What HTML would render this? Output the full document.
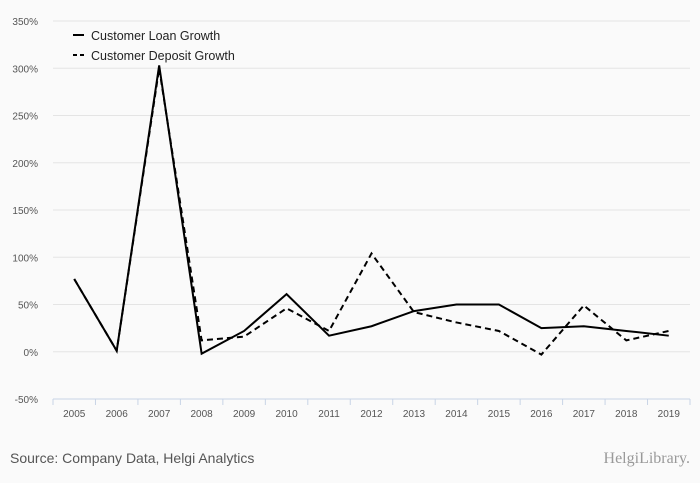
<!DOCTYPE html>
<html><head><meta charset="utf-8"><style>
body{margin:0;background:#fafafa;font-family:"Liberation Sans",sans-serif;}
svg{display:block}
</style></head><body>
<svg id="chart" width="700" height="483" xmlns="http://www.w3.org/2000/svg">
<rect width="700" height="483" fill="#fafafa"/>
<g id="grid"></g><g id="axes"></g><g id="series"></g>
<g>
<line x1="73" y1="35" x2="84" y2="35" stroke="#000" stroke-width="2"/>
<text x="91" y="40" font-size="12.5" fill="#222">Customer Loan Growth</text>
<line x1="73" y1="55" x2="84" y2="55" stroke="#000" stroke-width="2" stroke-dasharray="4,3"/>
<text x="91" y="60" font-size="12.5" fill="#222">Customer Deposit Growth</text>
</g>
<text x="10" y="463" font-size="14" fill="#555">Source: Company Data, Helgi Analytics</text>
<text x="690" y="463" font-size="16" fill="#999" text-anchor="end" font-family="Liberation Serif,serif">HelgiLibrary.</text>
</svg>
<script>
const categories=["2005","2006","2007","2008","2009","2010","2011","2012","2013","2014","2015","2016","2017","2018","2019"];
const loanGrowth=[77,1,303,-2,22,61,17,27,43,50,50,25,27,22,17];
const depositGrowth=[77,1,300,12,16,46,22,104,42,31,22,-3,49,12,22];
const yTicks=[-50,0,50,100,150,200,250,300,350];
const NS="http://www.w3.org/2000/svg";
const left=53,right=690,top0=21,bottom=399,yMin=-50,yMax=350;
const band=(right-left)/categories.length;
const x=i=>left+band*(i+0.5);
const y=v=>bottom-(v-yMin)/(yMax-yMin)*(bottom-top0);
function mk(tag,attrs,parent){const e=document.createElementNS(NS,tag);for(const k in attrs)e.setAttribute(k,attrs[k]);parent.appendChild(e);return e;}
const grid=document.getElementById('grid'),axes=document.getElementById('axes'),series=document.getElementById('series');
yTicks.forEach(t=>{
 if(t!==yMin){const l=mk('line',{x1:left,x2:right,y1:y(t),y2:y(t),stroke:'#e4e4e4','stroke-width':1},grid);
 
 }
 const tx=mk('text',{x:38,y:y(t)+4,'font-size':10,fill:'#555','text-anchor':'end'},axes);
 tx.textContent=t+'%';
 
 
});
const ax=mk('line',{x1:left,x2:right,y1:bottom,y2:bottom,stroke:'#c8d4e6','stroke-width':1},axes);


for(let i=0;i<=categories.length;i++){
 const tk=mk('line',{x1:left+band*i,x2:left+band*i,y1:bottom,y2:bottom+6,stroke:'#c8d4e6'},axes);
 
 
}
categories.forEach((c,i)=>{
 const tx=mk('text',{x:x(i),y:417,'font-size':10,fill:'#555','text-anchor':'middle'},axes);
 tx.textContent=c;
 
 
});
function line(vals,dash,name){
 const p=mk('polyline',{points:vals.map((v,i)=>x(i)+','+y(v)).join(' '),fill:'none',stroke:'#000','stroke-width':2,'stroke-dasharray':dash},series);
 
 
}
line(depositGrowth,'6,4','deposit-growth-line');
line(loanGrowth,'none','loan-growth-line');
</script>
</body></html>
